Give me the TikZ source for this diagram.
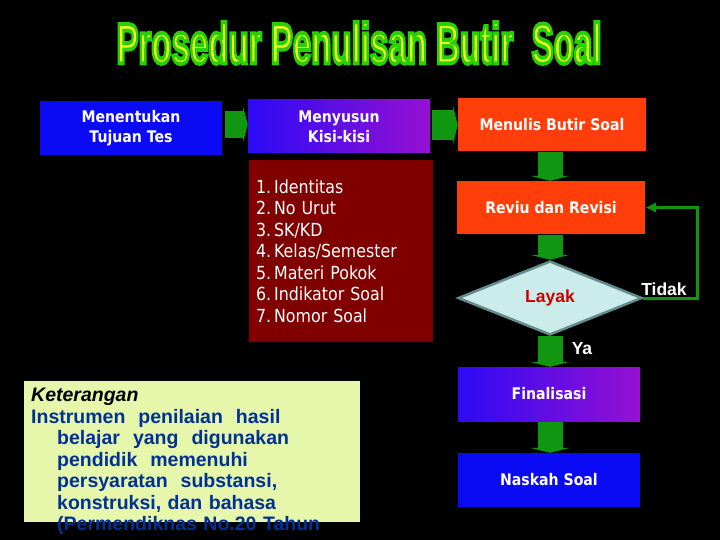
\documentclass[tikz,border=0pt]{standalone}
\usepackage{fontspec}
\setmainfont{Liberation Sans}
\newfontfamily\tah[FakeStretch=0.88]{DejaVu Sans}
\usetikzlibrary{shapes.geometric,arrows.meta}
\definecolor{bluebox}{RGB}{10,10,245}
\definecolor{purp}{RGB}{150,16,210}
\definecolor{blueL}{RGB}{45,10,245}
\definecolor{darkred}{RGB}{128,0,0}
\definecolor{orangered}{RGB}{255,62,10}
\definecolor{arrowgreen}{RGB}{16,150,16}
\definecolor{diafill}{RGB}{204,236,236}
\definecolor{diaborder}{RGB}{100,140,140}
\definecolor{layakred}{RGB}{204,0,0}
\definecolor{ketfill}{RGB}{230,246,170}
\definecolor{ketblue}{RGB}{0,50,150}
\definecolor{titleyellow}{RGB}{240,255,40}
\tikzset{
  box/.style={rectangle, inner sep=0pt, text=white, align=center,
    font=\tah\bfseries\fontsize{16}{20}\selectfont},
  listbox/.style={rectangle, fill=darkred, inner xsep=7pt, inner ysep=0pt,
    text=white, align=left, text width=170pt,
    font=\tah\fontsize{18}{21.5}\selectfont},
  darrow/.style={draw=arrowgreen, line width=25pt,
    -{Triangle[length=5pt,width=40pt]}},
  harrow/.style={draw=arrowgreen, line width=#1,
    -{Triangle[length=5pt,width=#1+10pt]}},
  fbline/.style={draw=arrowgreen, line width=3pt,
    -{Latex[length=11pt,width=11pt]}},
  lbl/.style={text=white, font=\bfseries\fontsize{17.5}{20}\selectfont, inner sep=0pt},
  ttl/.style={font=\bfseries\fontsize{57}{60}\selectfont, inner sep=0pt}
}
\newcommand{\ttltext}{\scalebox{0.58}[1]{\special{pdf:literal direct 2 Tr 4 w 0.16 0.82 0 RG}Prosedur Penulisan Butir\ \ Soal\special{pdf:literal direct 0 Tr 1 w}}}
\begin{document}
\begin{tikzpicture}[x=1pt,y=-1pt]
\fill[black] (0,0) rectangle (720,540);
\useasboundingbox (0,0) rectangle (720,540);

% title
\node[ttl, text=titleyellow] (title) at (359,43) {\ttltext};

% boxes
\node[box, fill=bluebox, minimum width=182pt, minimum height=54pt] (b1) at (131,128)
  {Menentukan\\Tujuan Tes};
\node[box, left color=blueL, right color=purp, minimum width=182pt, minimum height=53pt] (b2) at (339,126.5)
  {Menyusun\\Kisi-kisi};
\node[listbox, minimum height=182pt] (list) at (341,251)
  {1.\hspace{3pt}Identitas\\2.\hspace{3pt}No Urut\\3.\hspace{3pt}SK/KD\\4.\hspace{3pt}Kelas/Semester\\5.\hspace{3pt}Materi Pokok\\6.\hspace{3pt}Indikator Soal\\7.\hspace{3pt}Nomor Soal};
\node[box, fill=orangered, minimum width=188pt, minimum height=53pt] (b4) at (552,124.5)
  {Menulis Butir Soal};
\node[box, fill=orangered, minimum width=188pt, minimum height=53pt] (b5) at (551,207.5)
  {Reviu dan Revisi};
\node[diamond, draw=diaborder, line width=2.5pt, fill=diafill, inner sep=0pt,
      minimum width=184pt, minimum height=74pt, text=layakred,
      font=\bfseries\fontsize{17.5}{20}\selectfont] (dia) at (550,298) {Layak};
\node[box, left color=blueL, right color=purp, minimum width=182pt, minimum height=54pt] (b7) at (549,394)
  {Finalisasi};
\node[box, fill=bluebox, minimum width=182pt, minimum height=54pt] (b8) at (549,480)
  {Naskah Soal};

% block arrows
\draw[harrow=27pt] ([yshift=3.5pt,xshift=3pt]b1.east) -- ([yshift=3.5pt]b1.east -| b2.west);
\draw[harrow=30pt] ([yshift=1.5pt,xshift=2pt]b2.east) -- ([yshift=1.5pt]b2.east -| b4.west);
\draw[darrow] ([yshift=-1pt]b4.south -| dia.center) -- (b5.north -| dia.center);
\draw[darrow] ([yshift=-1pt]b5.south -| dia.center) -- (dia.north);
\draw[darrow] (dia.south) -- (b7.north -| dia.center);
\draw[darrow] ([yshift=-1pt]b7.south -| dia.center) -- (b8.north -| dia.center);

% feedback
\draw[fbline] (dia.east) -- ++(54,0) |- (b5.east);
\node[lbl] (tidak) at (664,289) {Tidak};
\node[lbl] (ya) at (582,349) {Ya};

% keterangan
\fill[ketfill] (24,381) rectangle (360,522);
\node[anchor=north west, inner sep=0pt, text width=330pt, align=left,
      font=\bfseries\fontsize{19.5}{21.5}\selectfont, text=ketblue] (ket) at (31,388)
  {\textcolor{black}{\itshape Keterangan}\\
   Instrumen\ \ penilaian\ \ hasil\\
   \hspace*{26pt}belajar\ \ yang\ \ digunakan\\
   \hspace*{26pt}pendidik\ \ memenuhi\\
   \hspace*{26pt}persyaratan\ \ substansi,\\
   \hspace*{26pt}konstruksi, dan bahasa\\
   \hspace*{26pt}(Permendiknas No.20 Tahun};
\end{tikzpicture}
\end{document}
